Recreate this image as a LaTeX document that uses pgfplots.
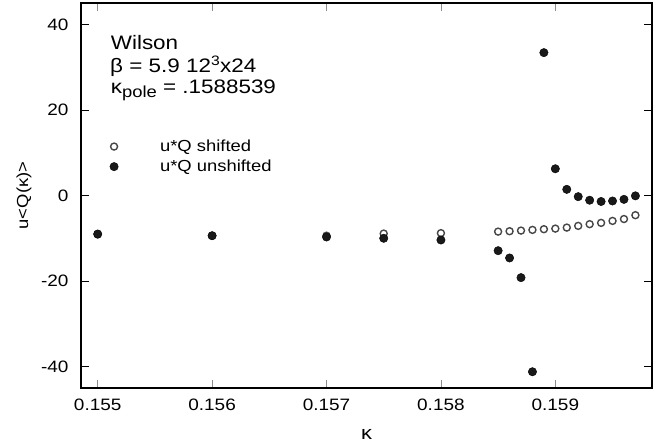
\documentclass[border=0pt]{standalone}
\usepackage{fontspec}
\setmainfont{Liberation Sans}[FakeStretch=1.15]
\usepackage{pgfplots}
\pgfplotsset{compat=1.18}
\pgfplotstableread{
x y
0.155 -9.1
0.156 -9.4
0.157 -9.4
0.1575 -8.9
0.158 -8.8
0.1585 -8.44
0.1586 -8.35
0.1587 -8.2
0.1588 -8.04
0.1589 -7.88
0.1590 -7.74
0.1591 -7.5
0.1592 -7.1
0.1593 -6.7
0.1594 -6.4
0.1595 -5.94
0.1596 -5.5
0.1597 -4.6
}\shifted
\pgfplotstableread{
x y
0.155 -9.0
0.156 -9.4
0.157 -9.7
0.1575 -10.0
0.158 -10.4
0.1585 -12.9
0.1586 -14.6
0.1587 -19.2
0.1588 -41.2
0.1589 33.4
0.1590 6.25
0.1591 1.44
0.1592 -0.27
0.1593 -1.1
0.1594 -1.4
0.1595 -1.28
0.1596 -0.9
0.1597 -0.08
}\unshifted
\begin{document}
\begin{tikzpicture}
\begin{axis}[
  at={(0,0)}, anchor=south west,
  width=571bp, height=385bp, scale only axis,
  xmin=0.154854, xmax=0.159845, ymin=-45, ymax=45,
  xtick={0.155,0.156,0.157,0.158,0.159},
  xticklabels={0.155,0.156,0.157,0.158,0.159},
  ytick={-40,-20,0,20,40},
  yticklabels={-40,-20,0,20,40},
  /pgf/number format/assume math mode=true,
  tick align=inside, major tick length=8bp,
  xtick style={black!45, line width=0.7bp},
  ytick style={black, line width=0.8bp},
  axis line style={line width=1.6bp},
  xticklabel style={font=\fontsize{16.5bp}{18bp}\selectfont, yshift=-7bp},
  yticklabel style={font=\fontsize{16.5bp}{18bp}\selectfont, xshift=-9bp},
  xlabel={κ}, ylabel={u<Q(κ)>},
  every axis x label/.style={at={(axis description cs:0.5,0)}, anchor=center, yshift=-46.7bp, font=\fontsize{19bp}{20bp}\selectfont},
  every axis y label/.style={at={(axis description cs:0,0.5)}, xshift=-57bp, anchor=center, rotate=90, font=\fontsize{16bp}{18bp}\selectfont},
  legend image code/.code={\draw[#1, only marks] plot coordinates {(0bp,0bp)}; \path[draw=none, fill=none] (-4bp,0bp) rectangle (44bp,0.1bp);},
  legend style={draw=none, fill=none, at={(rel axis cs:0.045,0.655)}, anchor=north west,
    font=\fontsize{16bp}{18bp}\selectfont, row sep=3bp},
  legend cell align=left,
]
\addplot[only marks, mark=o, mark size=3.5bp, mark options={draw=black!72, line width=1.4bp}] table {\shifted};
\addlegendentry{u*Q shifted}
\addplot[only marks, mark=*, mark size=4.2bp, mark options={draw=black, fill=black!90}] table {\unshifted};
\addlegendentry{u*Q unshifted}
\end{axis}
\begin{scope}[every node/.style={anchor=base west, inner sep=0pt, font=\fontsize{19.5bp}{22bp}\selectfont}]
\node at (29.7bp,338bp) {Wilson};
\node at (29bp,315bp) {β = 5.9 12\textsuperscript{3}x24};
\node at (29.7bp,294bp) {κ\raisebox{-4bp}{\fontsize{16bp}{16bp}\selectfont pole} = .1588539};
\end{scope}
\pgfresetboundingbox
\useasboundingbox (-81bp,-59bp) rectangle (591bp,388bp);
\end{tikzpicture}
\end{document}
